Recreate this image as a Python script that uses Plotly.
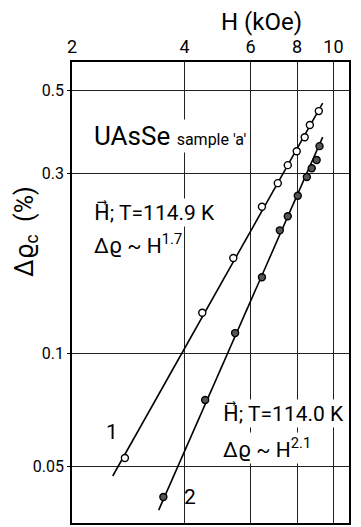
import plotly.graph_objects as go
import math

# Data
H1 = [2.77, 4.46, 5.40, 6.44, 7.10, 7.55, 7.98, 8.38, 8.65, 9.14]
R1 = [0.0526, 0.128, 0.179, 0.245, 0.283, 0.316, 0.344, 0.375, 0.404, 0.440]
H2 = [3.51, 4.54, 5.46, 6.44, 7.19, 7.55, 8.03, 8.49, 8.75, 9.02, 9.18]
R2 = [0.0414, 0.075, 0.113, 0.159, 0.212, 0.231, 0.262, 0.294, 0.310, 0.326, 0.355]
# fitted power-law lines (end points)
L1_H = [2.57, 9.36]
L1_R = [0.0471, 0.462]
L2_H = [3.41, 9.36]
L2_R = [0.0382, 0.375]

x_ticks = [2, 4, 6, 8, 10]
y_ticks = [0.05, 0.1, 0.3, 0.5]
y_ticktext = ["0.05", "0.1", "0.3", "0.5"]

FONT = "Roboto, DejaVu Sans, sans-serif"
W, H = 361, 527
ML, MR, MT, MB = 72, 12, 62, 4
PW, PH = W - ML - MR, H - MT - MB


def px(x):
    return (x - ML) / PW


def py(y):
    return (H - MB - y) / PH


fig = go.Figure()
fig.add_trace(go.Scatter(x=L1_H, y=L1_R, mode="lines",
                         line=dict(color="black", width=1.6), hoverinfo="skip"))
fig.add_trace(go.Scatter(x=L2_H, y=L2_R, mode="lines",
                         line=dict(color="black", width=1.6), hoverinfo="skip"))
fig.add_trace(go.Scatter(x=H1, y=R1, mode="markers",
                         marker=dict(symbol="circle", size=7, color="white",
                                     line=dict(color="black", width=1.4))))
fig.add_trace(go.Scatter(x=H2, y=R2, mode="markers",
                         marker=dict(symbol="circle", size=7, color="#555",
                                     line=dict(color="black", width=1.4))))

ann = []
def A(x, y, text, size, xanchor="left", bg="white", angle=0):
    d = dict(x=px(x), y=py(y), xref="paper", yref="paper", text=text,
             showarrow=False, xanchor=xanchor, yanchor="middle",
             font=dict(family=FONT, size=size, color="black"),
             textangle=angle, borderpad=1)
    if bg:
        d["bgcolor"] = bg
    ann.append(d)

A(92, 136, "UAsSe <span style='font-size:16px'>sample 'a'</span>", 26)
A(92, 212, "H\u20d7; T=114.9 K", 21)
A(92, 244, "\u0394\u03f1 ~ H<sup>1.7</sup>", 21)
A(221, 413, "H\u20d7; T=114.0 K", 21)
A(221, 448, "\u0394\u03f1 ~ H<sup>2.1</sup>", 21)
A(112, 432, "1", 21, xanchor="center", bg=None)
A(190, 497, "2", 21, xanchor="center", bg=None)
A(261, 22, "H (kOe)", 24, xanchor="center", bg=None)
A(26, 232, "\u0394\u03f1<sub>c</sub>&nbsp;&nbsp;(%)", 25, xanchor="center", bg=None, angle=-90)
fig.update_layout(annotations=ann)

xr0 = math.log10(2)
fig.update_layout(
    width=W, height=H,
    margin=dict(l=ML, r=MR, t=MT, b=MB, pad=0),
    paper_bgcolor="white", plot_bgcolor="white",
    showlegend=False,
    font=dict(family=FONT, color="black"),
    xaxis=dict(type="log", side="top", range=[xr0, xr0 + PW / 374.0],
               tickvals=x_ticks, ticktext=[str(v) for v in x_ticks],
               tickfont=dict(size=18), showgrid=True, gridcolor="#222", gridwidth=1,
               showline=True, linecolor="black", linewidth=1.6, mirror=True,
               ticks="", zeroline=False, automargin=False),
    yaxis=dict(type="log", range=[-1.452, -0.226],
               tickvals=y_ticks, ticktext=y_ticktext,
               tickfont=dict(size=16), showgrid=True, gridcolor="#222", gridwidth=1,
               showline=True, linecolor="black", linewidth=1.6, mirror=True,
               ticks="outside", ticklen=3, tickcolor="black", zeroline=False,
               automargin=False),
)

fig.write_html("out.html", config={"displayModeBar": False},
               post_script="document.body.style.margin='0';document.body.style.padding='0';")
